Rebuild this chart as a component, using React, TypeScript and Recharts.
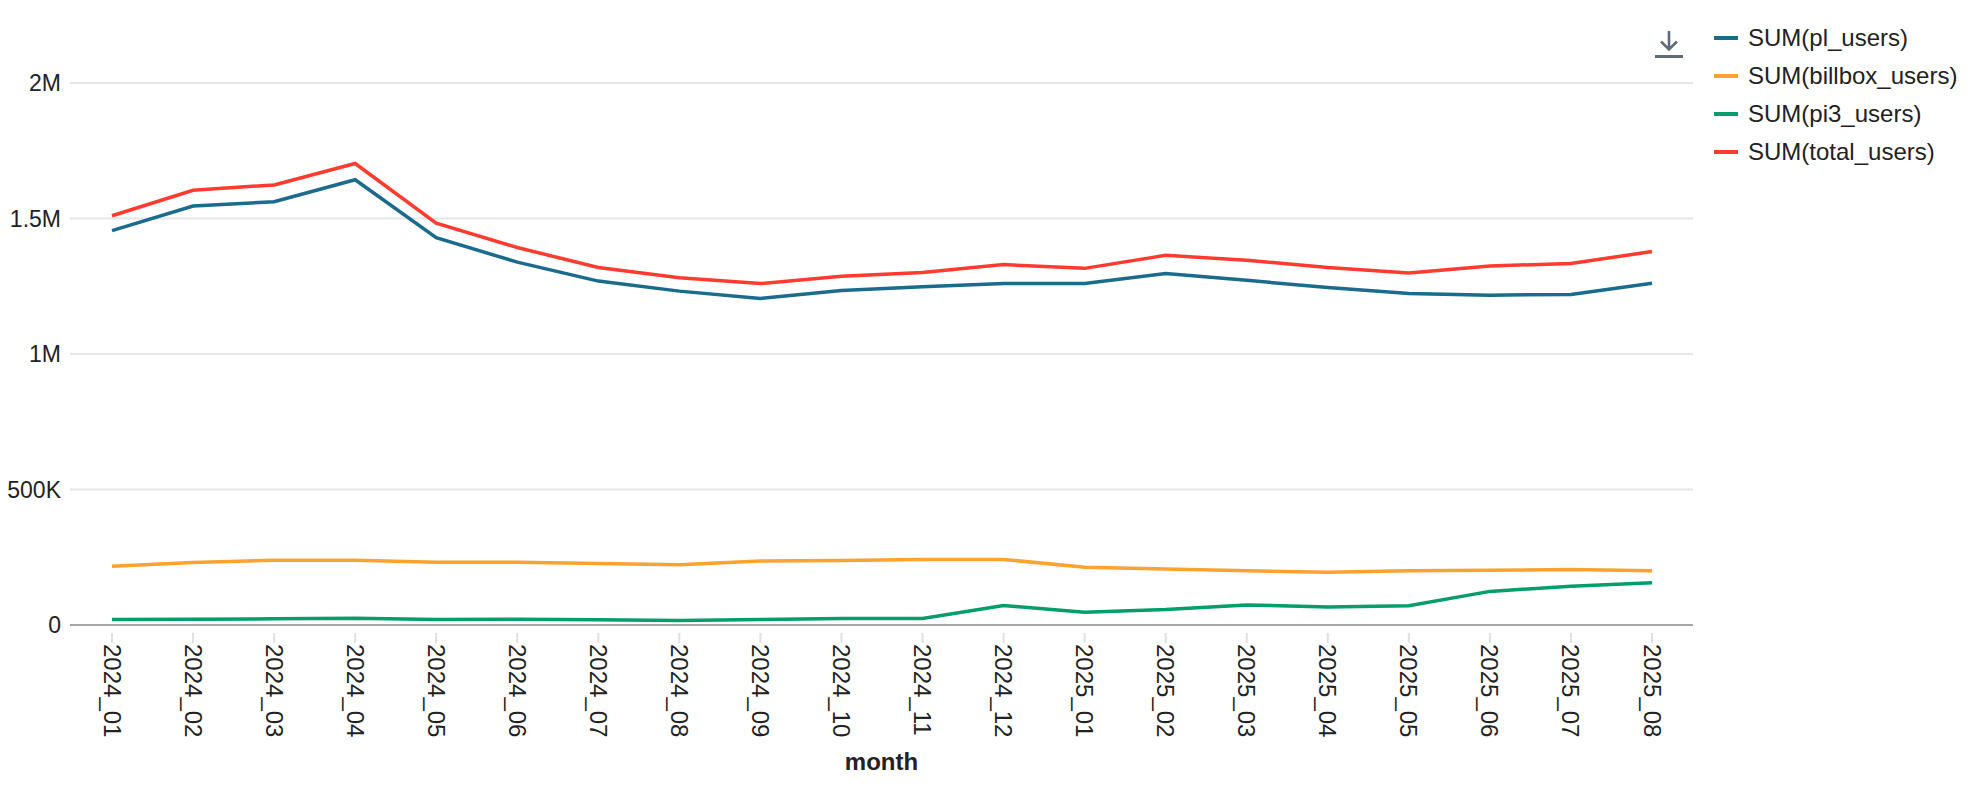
import React from "react"
import { LineChart, Line, XAxis, YAxis, CartesianGrid, Label } from "recharts"

const months = [
  "2024_01", "2024_02", "2024_03", "2024_04", "2024_05", "2024_06", "2024_07",
  "2024_08", "2024_09", "2024_10", "2024_11", "2024_12", "2025_01", "2025_02",
  "2025_03", "2025_04", "2025_05", "2025_06", "2025_07", "2025_08",
]

const plUsers = [
  1455000, 1546000, 1562000, 1643000, 1429000, 1339000, 1269000, 1232000, 1205000, 1234000,
  1248000, 1260000, 1260000, 1297000, 1272000, 1245000, 1223000, 1217000, 1220000, 1261000,
]
const billboxUsers = [
  217000, 231000, 239000, 239000, 232000, 232000, 227000, 222000, 236000, 238000,
  242000, 242000, 213000, 207000, 200000, 195000, 200000, 202000, 205000, 200000,
]
const pi3Users = [
  20000, 21000, 23000, 25000, 20000, 21500, 19000, 16500, 20000, 24000,
  24000, 72000, 47000, 57000, 74000, 66000, 71000, 124000, 143000, 156000,
]
const totalUsers = [
  1510000, 1604000, 1624000, 1703000, 1483000, 1393000, 1319000, 1281000, 1260000, 1287000,
  1301000, 1330000, 1316000, 1364000, 1346000, 1319000, 1299000, 1325000, 1334000, 1378000,
]

const yTicks = [0, 500000, 1000000, 1500000, 2000000]

const series = [
  { key: "pl", name: "SUM(pl_users)", color: "#1a6b8c" },
  { key: "billbox", name: "SUM(billbox_users)", color: "#fca32f" },
  { key: "pi3", name: "SUM(pi3_users)", color: "#039e6a" },
  { key: "total", name: "SUM(total_users)", color: "#ff3b2f" },
]

const data = months.map((m, i) => ({
  month: m,
  pl: plUsers[i],
  billbox: billboxUsers[i],
  pi3: pi3Users[i],
  total: totalUsers[i],
}))

const FONT = "'Liberation Sans', Arial, Helvetica, sans-serif"

const formatY = (v: number) => {
  if (v === 0) return "0"
  if (v >= 1000000) return `${v / 1000000}M`
  return `${v / 1000}K`
}

const MonthTick = (props: any) => {
  const { x, y, payload } = props
  return (
    <g>
      <line x1={x} x2={x} y1={y + 8} y2={y + 18} stroke="#e0e0e0" strokeWidth={2} />
      <text
        x={x}
        y={y + 19}
        transform={`rotate(90, ${x}, ${y + 19})`}
        textAnchor="start"
        dominantBaseline="central"
        fontSize={24}
        fontFamily={FONT}
        fill="#222"
      >
        {payload.value}
      </text>
    </g>
  )
}

export default function App() {
  return (
    <div style={{ position: "absolute", left: 0, top: 0, width: 1974, height: 792, background: "#fff" }}>
      <LineChart
        width={1974}
        height={792}
        data={data}
        margin={{ top: 83, right: 281, bottom: 0, left: 0 }}
      >
        <CartesianGrid vertical={false} stroke="#e6e6e6" strokeWidth={2} />
        <XAxis
          dataKey="month"
          height={167}
          padding={{ left: 42, right: 41 }}
          tickLine={false}
          tickSize={0}
          tickMargin={0}
          axisLine={{ stroke: "#a6a6a6", strokeWidth: 2 }}
          tick={<MonthTick />}
          interval={0}
        >
          <Label
            value="month"
            position="insideBottom"
            offset={22}
            style={{ fontSize: 24, fontWeight: "bold", fontFamily: FONT, fill: "#222" }}
          />
        </XAxis>
        <YAxis
          width={70}
          domain={[0, 2000000]}
          ticks={yTicks}
          tickFormatter={formatY}
          axisLine={false}
          tickLine={false}
          tickMargin={3}
          tick={{ fontSize: 23, fontFamily: FONT, fill: "#222" }}
        />
        {series.map(s => (
          <Line
            key={s.key}
            dataKey={s.key}
            name={s.name}
            stroke={s.color}
            strokeWidth={3.5}
            dot={false}
            activeDot={false}
            isAnimationActive={false}
          />
        ))}
      </LineChart>

      {/* download icon */}
      <svg style={{ position: "absolute", left: 1651, top: 28 }} width={36} height={36}>
        <path d="M18 3 V21 M10 13.5 L18 21.5 L26 13.5" stroke="#5e6c7a" strokeWidth={2.6} fill="none" />
        <rect x={4} y={27} width={28} height={3} fill="#5e6c7a" />
      </svg>

      {/* legend */}
      <div style={{ position: "absolute", left: 1714, top: 19, fontFamily: FONT, fontSize: 24, color: "#222" }}>
        {series.map(s => (
          <div key={s.key} style={{ display: "flex", alignItems: "center", height: 38 }}>
            <span style={{ display: "inline-block", width: 24, height: 4, background: s.color, marginRight: 10 }} />
            <span>{s.name}</span>
          </div>
        ))}
      </div>
    </div>
  )
}
